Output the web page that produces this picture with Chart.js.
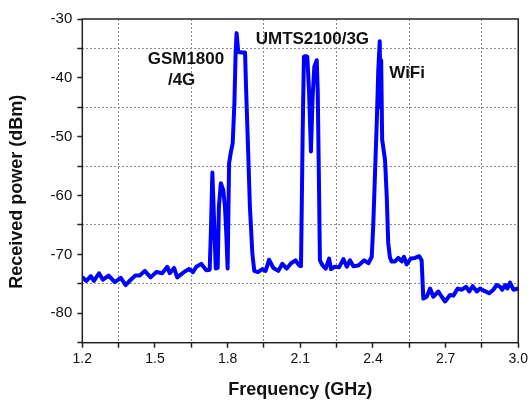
<!DOCTYPE html>
<html>
<head>
<meta charset="utf-8">
<script src="https://cdn.jsdelivr.net/npm/chart.js@4/dist/chart.umd.min.js"></script>
<style>
  html, body { margin: 0; padding: 0; background: #ffffff; }
  #wrap { width: 531px; height: 403px; position: relative; }
</style>
</head>
<body>
<div id="wrap"><canvas id="c"></canvas></div>
<script>
// ---- data ----
const freqGHz = [
  1.200, 1.217, 1.235, 1.248, 1.269, 1.285, 1.309, 1.334, 1.359, 1.379,
  1.400, 1.419, 1.437, 1.458, 1.482, 1.506, 1.530, 1.551, 1.561, 1.579,
  1.592, 1.623, 1.641, 1.657, 1.671, 1.691, 1.712, 1.726, 1.731, 1.737,
  1.744, 1.751, 1.759, 1.764, 1.772, 1.782, 1.789, 1.795, 1.800, 1.806,
  1.814, 1.821, 1.828, 1.833, 1.837, 1.844, 1.858, 1.872, 1.876, 1.885,
  1.892, 1.902, 1.910, 1.925, 1.943, 1.957, 1.971, 1.989, 2.009, 2.026,
  2.044, 2.062, 2.080, 2.096, 2.103, 2.110, 2.115, 2.122, 2.129, 2.136,
  2.144, 2.151, 2.158, 2.168, 2.172, 2.177, 2.181, 2.191, 2.205, 2.219,
  2.227, 2.241, 2.260, 2.278, 2.292, 2.305, 2.319, 2.340, 2.364, 2.381,
  2.395, 2.401, 2.409, 2.416, 2.422, 2.428, 2.431, 2.434, 2.438, 2.450,
  2.457, 2.463, 2.470, 2.477, 2.491, 2.505, 2.519, 2.528, 2.539, 2.556,
  2.574, 2.591, 2.601, 2.608, 2.622, 2.636, 2.649, 2.670, 2.684, 2.698,
  2.718, 2.732, 2.750, 2.767, 2.784, 2.798, 2.812, 2.829, 2.842, 2.860,
  2.880, 2.897, 2.911, 2.925, 2.934, 2.946, 2.955, 2.966, 2.980, 3.000
];
const powerDBm = [
  -73.9, -74.5, -73.7, -74.5, -73.2, -74.3, -73.6, -74.7, -74.0, -75.2,
  -74.3, -73.6, -73.6, -72.8, -73.9, -73.0, -73.2, -72.1, -73.2, -72.3,
  -73.9, -72.9, -72.5, -73.0, -72.1, -71.6, -72.7, -72.6, -66.0, -56.1,
  -64.2, -72.4, -72.3, -61.9, -57.9, -59.1, -61.9, -67.0, -72.4, -54.5,
  -52.5, -51.1, -44.3, -35.8, -32.4, -35.6, -35.7, -35.7, -41.5, -52.8,
  -61.9, -69.8, -72.8, -73.0, -72.5, -72.8, -70.9, -72.3, -72.8, -71.6,
  -72.4, -71.5, -71.0, -71.9, -72.0, -48.9, -36.4, -36.3, -36.4, -42.1,
  -52.5, -43.2, -38.1, -37.0, -42.1, -57.4, -71.0, -71.8, -72.4, -70.7,
  -72.5, -72.1, -72.2, -70.8, -72.1, -71.0, -72.0, -71.9, -71.0, -71.5,
  -70.4, -65.3, -55.7, -47.2, -38.7, -33.8, -45.0, -37.0, -50.5, -54.0,
  -60.2, -68.0, -70.5, -71.2, -71.2, -70.6, -71.2, -70.4, -71.7, -70.7,
  -70.6, -70.3, -71.0, -77.5, -77.2, -75.8, -77.2, -76.3, -77.2, -78.0,
  -76.9, -77.0, -75.8, -76.0, -75.5, -76.3, -75.4, -76.3, -75.8, -76.2,
  -76.6, -76.0, -75.2, -75.5, -76.0, -75.2, -75.8, -74.8, -76.0, -75.8
];
const xTickLabels = ['1.2', '1.5', '1.8', '2.1', '2.4', '2.7', '3.0'];
const yTickLabels = ['-80', '-70', '-60', '-50', '-40', '-30'];
const bandLabels = ['GSM1800', '/4G', 'UMTS2100/3G', 'WiFi'];
const bandLabelFreq = [1.628, 1.610, 2.150, 2.541];
const bandLabelPower = [-36.9, -40.4, -33.5, -39.2];
const yTitle = 'Received power (dBm)';

const FONT = "'Liberation Sans', Arial, sans-serif";

function labelFor(list, v) {
  for (const s of list) {
    if (Math.abs(parseFloat(s) - v) < 1e-6) return s;
  }
  return '';
}

const framePlugin = {
  id: 'frame',
  afterDraw(chart) {
    const { ctx, chartArea: a, scales } = chart;
    ctx.save();
    // band annotations
    ctx.fillStyle = '#111';
    ctx.font = 'bold 17px ' + FONT;
    ctx.textAlign = 'center';
    ctx.textBaseline = 'middle';
    bandLabels.forEach((t, i) => {
      ctx.fillText(t, scales.x.getPixelForValue(bandLabelFreq[i]), scales.y.getPixelForValue(bandLabelPower[i]));
    });
    // y axis title (slightly below the axis centre, as in the reference)
    ctx.font = 'bold 18px ' + FONT;
    ctx.translate(17, (a.top + a.bottom) / 2 + 11);
    ctx.rotate(-Math.PI / 2);
    ctx.fillText(yTitle, 0, 0);
    ctx.setTransform(1, 0, 0, 1, 0, 0);
    // box
    ctx.strokeStyle = '#222';
    ctx.lineWidth = 1.5;
    ctx.strokeRect(a.left, a.top, a.right - a.left, a.bottom - a.top);
    ctx.restore();
  }
};

new Chart(document.getElementById('c'), {
  type: 'line',
  data: {
    datasets: [{
      data: freqGHz.map((f, i) => ({ x: f, y: powerDBm[i] })),
      borderColor: '#0000ff',
      borderWidth: 4,
      pointRadius: 0,
      tension: 0,
      fill: false,
      borderJoinStyle: 'round',
      borderCapStyle: 'round'
    }]
  },
  options: {
    responsive: true,
    maintainAspectRatio: false,
    animation: false,
    devicePixelRatio: 1,
    layout: { padding: { top: 19, right: 12.7, bottom: 0, left: 0 } },
    plugins: { legend: { display: false }, tooltip: { enabled: false } },
    scales: {
      x: {
        type: 'linear',
        min: 1.2, max: 3.0,
        afterFit(s) { s.height = 403 - 342.7; },
        ticks: {
          stepSize: 0.15,
          autoSkip: false,
          maxRotation: 0,
          padding: 3,
          color: '#111',
          font: { family: FONT, size: 14 },
          callback: (v) => labelFor(xTickLabels, v)
        },
        grid: {
          color: (c) => labelFor(xTickLabels, c.tick.value) ? 'rgba(0,0,0,0)' : '#8a8a8a',
          lineWidth: 1,
          tickColor: '#222',
          tickLength: 5,
          tickWidth: 1.5,
          tickBorderDash: []
        },
        border: { display: false, dash: [2, 2] },
        title: {
          display: true,
          text: 'Frequency (GHz)',
          color: '#111',
          font: { family: FONT, size: 18, weight: 'bold' },
          padding: { top: 0, bottom: 2 }
        }
      },
      y: {
        min: -85, max: -30,
        afterFit(s) { s.width = 82.3; },
        ticks: {
          stepSize: 5,
          autoSkip: false,
          padding: 5,
          color: '#111',
          font: { family: FONT, size: 15 },
          callback: (v) => labelFor(yTickLabels, v)
        },
        grid: {
          color: (c) => labelFor(yTickLabels, c.tick.value) ? 'rgba(0,0,0,0)' : '#8a8a8a',
          lineWidth: 1,
          tickColor: '#222',
          tickLength: 5,
          tickWidth: 1.5,
          tickBorderDash: []
        },
        border: { display: false, dash: [2, 2] },
        title: { display: false }
      }
    }
  },
  plugins: [framePlugin]
});
</script>
</body>
</html>
